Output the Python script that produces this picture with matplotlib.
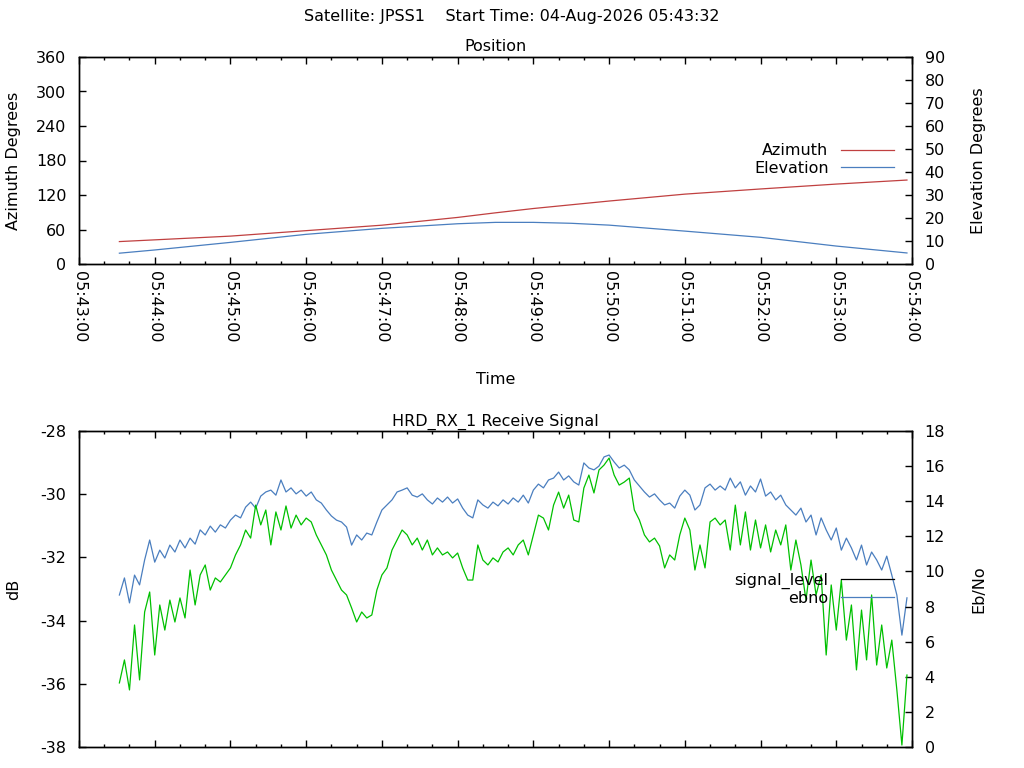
import datetime as dt
import matplotlib
matplotlib.use("Agg")
import matplotlib.pyplot as plt
import matplotlib.dates as mdates
from matplotlib.lines import Line2D
from matplotlib.ticker import MultipleLocator

plt.rcParams["font.family"] = ["DejaVu Sans"]
plt.rcParams["font.size"] = 11.5
plt.rcParams["axes.unicode_minus"] = False

start = dt.datetime(2026, 8, 4, 5, 43, 32)
t_min = dt.datetime(2026, 8, 4, 5, 43, 0)
t_max = dt.datetime(2026, 8, 4, 5, 54, 0)

# position samples (seconds after start)
pos_sec = [0, 28, 88, 148, 208, 268, 298, 328, 358, 388, 448, 508, 568, 624]
azimuth = [39, 42, 48.5, 58, 67.5, 81, 89, 96.5, 103, 109.5, 121.5, 130.5, 139, 146]
elevation = [4.7, 6.1, 9.4, 12.9, 15.5, 17.5, 18.1, 18.1, 17.7, 16.9, 14.3, 11.6, 7.8, 4.8]

# receive signal, one sample every 4 s
sample_step = 4
signal_level = [
    -33.19, -32.65, -33.44, -32.56, -32.87, -32.08, -31.45, -32.15, -31.77, -32.02,
    -31.61, -31.83, -31.45, -31.70, -31.39, -31.58, -31.13, -31.29, -31.01, -31.20,
    -30.97, -31.07, -30.82, -30.66, -30.75, -30.41, -30.25, -30.44, -30.06, -29.93,
    -29.87, -30.03, -29.55, -29.93, -29.80, -29.99, -29.87, -30.06, -29.93, -30.18,
    -30.28, -30.50, -30.69, -30.82, -30.88, -31.04, -31.61, -31.29, -31.45, -31.23,
    -31.29, -30.88, -30.50, -30.34, -30.18, -29.93, -29.87, -29.80, -30.03, -30.09,
    -29.99, -30.18, -30.31, -30.12, -30.25, -30.09, -30.28, -30.15, -30.44, -30.66,
    -30.75, -30.18, -30.34, -30.44, -30.25, -30.37, -30.18, -30.31, -30.12, -30.25,
    -30.03, -30.28, -29.87, -29.68, -29.80, -29.55, -29.49, -29.30, -29.55, -29.42,
    -29.61, -29.71, -29.01, -29.17, -29.23, -29.11, -28.82, -28.76, -28.98, -29.17,
    -29.08, -29.23, -29.55, -29.74, -29.93, -30.09, -29.99, -30.18, -30.34, -30.28,
    -30.44, -30.06, -29.87, -30.03, -30.50, -30.34, -29.80, -29.68, -29.87, -29.74,
    -29.87, -29.49, -29.80, -29.61, -30.03, -29.74, -29.93, -29.52, -30.06, -29.93,
    -30.18, -30.03, -30.34, -30.50, -30.66, -30.44, -30.88, -30.66, -31.29, -30.75,
    -31.13, -31.45, -31.07, -31.77, -31.39, -31.70, -32.08, -31.61, -32.24, -31.83,
    -32.08, -32.40, -31.96, -32.56, -33.19, -34.46, -33.28,
]
ebno = [
    3.65, 4.96, 3.25, 6.95, 3.82, 7.69, 8.83, 5.24, 8.09, 6.66,
    8.37, 7.12, 8.49, 7.35, 10.08, 8.09, 9.80, 10.37, 8.94, 9.63,
    9.40, 9.80, 10.20, 10.94, 11.51, 12.36, 11.90, 13.78, 12.65, 13.50,
    11.51, 13.39, 12.36, 13.73, 12.47, 13.21, 12.65, 13.04, 12.82, 12.08,
    11.51, 10.94, 10.08, 9.51, 8.94, 8.66, 7.92, 7.12, 7.69, 7.35,
    7.52, 8.94, 9.80, 10.20, 11.22, 11.79, 12.36, 12.08, 11.51, 11.90,
    11.22, 11.79, 10.94, 11.34, 10.94, 11.11, 10.77, 11.05, 10.20, 9.51,
    9.51, 11.51, 10.65, 10.37, 10.77, 10.54, 11.11, 11.34, 10.94, 11.51,
    11.79, 10.94, 12.08, 13.21, 13.04, 12.36, 13.78, 14.52, 13.61, 14.35,
    12.93, 12.82, 14.75, 15.49, 14.47, 15.78, 16.06, 16.46, 15.49, 14.92,
    15.09, 15.32, 13.50, 12.93, 12.08, 11.68, 11.90, 11.45, 10.20, 10.94,
    10.65, 12.08, 13.04, 12.36, 10.08, 11.51, 10.20, 12.82, 13.04, 12.65,
    12.93, 11.22, 13.78, 11.51, 13.39, 11.22, 12.93, 11.34, 12.65, 11.11,
    12.36, 11.51, 12.65, 10.08, 11.79, 10.37, 8.37, 10.65, 8.66, 9.80,
    5.24, 9.23, 6.66, 9.51, 6.09, 8.09, 4.39, 7.80, 4.96, 8.66,
    4.67, 6.95, 4.50, 6.09, 3.25, 0.11, 4.10,
]

RED = "#c04040"
BLUE = "#4a7ebf"
GREEN = "#00c000"

pos_t = [start + dt.timedelta(seconds=s) for s in pos_sec]
sig_t = [start + dt.timedelta(seconds=i * sample_step) for i in range(len(signal_level))]

fig = plt.figure(figsize=(10.24, 7.68), dpi=100)
ax1 = fig.add_axes([79 / 1024, 1 - 264 / 768, 833 / 1024, 207 / 768])
ax1b = ax1.twinx()
ax2 = fig.add_axes([79 / 1024, 1 - 747 / 768, 833 / 1024, 316 / 768])
ax2b = ax2.twinx()


def style_time_axis(ax):
    ax.set_xlim(t_min, t_max)
    ax.xaxis.set_major_locator(mdates.MinuteLocator())
    ax.xaxis.set_minor_locator(mdates.SecondLocator(bysecond=[20, 40]))
    ax.xaxis.set_major_formatter(mdates.DateFormatter("%H:%M:%S"))
    ax.tick_params(axis="x", which="both", direction="in", top=True, bottom=True)
    ax.tick_params(axis="x", which="major", length=5, width=1)
    ax.tick_params(axis="x", which="minor", length=2.5, width=1)


for a in (ax1, ax1b, ax2, ax2b):
    a.tick_params(axis="y", direction="in", length=5, width=1, pad=9)
    for sp in a.spines.values():
        sp.set_linewidth(1)

# --- position ---
ax1.plot(pos_t, azimuth, color=RED, lw=0.9)
ax1b.plot(pos_t, elevation, color=BLUE, lw=0.9)
style_time_axis(ax1)
ax1.set_ylim(0, 360)
ax1.yaxis.set_major_locator(MultipleLocator(60))
ax1.tick_params(axis="y", right=False)
ax1b.set_ylim(0, 90)
ax1b.yaxis.set_major_locator(MultipleLocator(10))
plt.setp(ax1.get_xticklabels(), rotation=-90, ha="center", va="top")
ax1.tick_params(axis="x", pad=5)
ax1.set_title("Position", pad=4, fontsize=11.5)
ax1.set_xlabel("Time")
ax1.xaxis.set_label_coords(0.5, -0.52)
ax1.set_ylabel("Azimuth Degrees")
ax1.yaxis.set_label_coords(-0.07, 0.5)
ax1b.set_ylabel("Elevation Degrees", rotation=90)
ax1b.yaxis.set_label_coords(1.071, 0.5)
h1 = [Line2D([], [], color=RED, lw=0.9), Line2D([], [], color=BLUE, lw=0.9)]
ax1.legend(h1, ["Azimuth", "Elevation"], loc="upper right",
           bbox_to_anchor=(0.988, 0.622), frameon=False, markerfirst=False,
           alignment="right", borderpad=0, handlelength=3.3,
           handletextpad=0.8, labelspacing=0.15)

# --- receive signal ---
ax2.plot(sig_t, signal_level, color=BLUE, lw=0.9)
ax2b.plot(sig_t, ebno, color=GREEN, lw=0.9)
style_time_axis(ax2)
ax2.tick_params(axis="x", labelbottom=False)
ax2.set_ylim(-38, -28)
ax2.yaxis.set_major_locator(MultipleLocator(2))
ax2.tick_params(axis="y", right=False)
ax2b.set_ylim(0, 18)
ax2b.yaxis.set_major_locator(MultipleLocator(2))
ax2.set_title("HRD_RX_1 Receive Signal", pad=4, fontsize=11.5)
ax2.set_ylabel("dB")
ax2.yaxis.set_label_coords(-0.07, 0.5)
ax2b.set_ylabel("Eb/No", rotation=90)
ax2b.yaxis.set_label_coords(1.071, 0.5)
h2 = [Line2D([], [], color="black", lw=0.9), Line2D([], [], color=BLUE, lw=0.9)]
leg2 = ax2b.legend(h2, ["signal_level", "ebno"], loc="upper right",
                   bbox_to_anchor=(0.988, 0.578), frameon=False, markerfirst=False,
                   alignment="right", borderpad=0, handlelength=3.3,
                   handletextpad=0.8, labelspacing=0.15)
leg2.set_zorder(10)

fig.text(0.5, 1 - 17 / 768, "Satellite: JPSS1    Start Time: 04-Aug-2026 05:43:32",
         ha="center", va="center")

fig.savefig("out.png", dpi=100)
